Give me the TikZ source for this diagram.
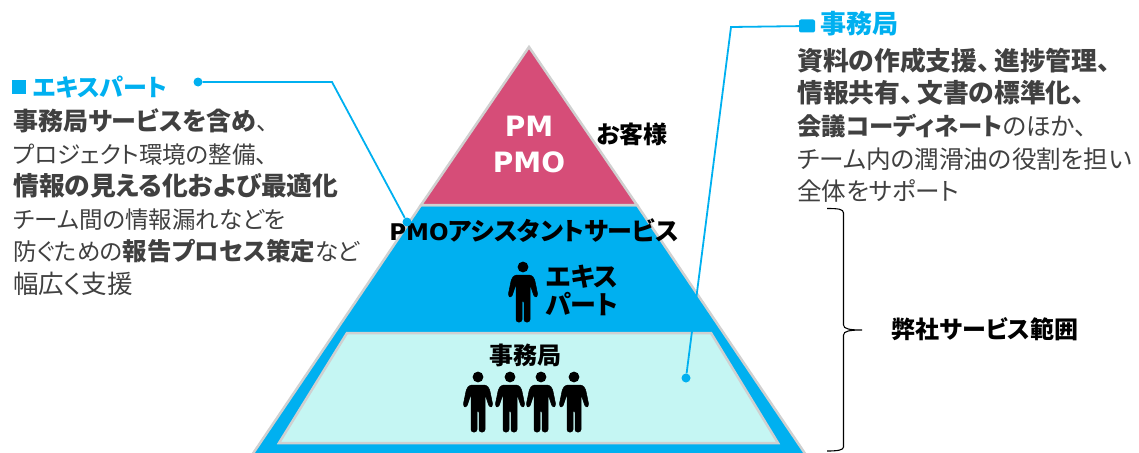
\documentclass[tikz,border=0pt]{standalone}
\usepackage{fontspec}
\setmainfont[RawFeature=+palt]{Noto Sans CJK JP}
\newfontfamily\latinfont{DejaVu Sans}
\usepackage{xcolor}
\definecolor{myblue}{HTML}{00B0F0}
\definecolor{myred}{HTML}{D64D78}
\definecolor{myteal}{HTML}{C5F6F3}
\definecolor{mygray}{HTML}{D0D0D0}
\definecolor{mytext}{HTML}{404040}
\newcommand{\keyword}[2][25.8]{{\fontsize{#1}{32.6}\selectfont\bfseries #2}}
\tikzset{
	tier/.style={draw=mygray, line width=2.5pt, line join=miter},
	label/.style={inner sep=0pt, font=\fontsize{25}{28}\selectfont\bfseries, align=center},
	title/.style={inner sep=0pt, anchor=west, text=myblue, font=\bfseries},
	body/.style={inner sep=0pt, anchor=north west, align=left, text=mytext, font=\fontsize{23.5}{32.6}\selectfont},
	dot/.style={circle, fill=myblue, inner sep=0pt, minimum size=9pt},
	leader/.style={draw=myblue, line width=1.8pt},
	person/.pic={
		\fill[black] (0,0) circle (5.4);
		\fill[black, draw=black, line width=0.5pt, line join=round, rounded corners=2.5pt]
			(-8.5,8) -- (8.5,8) -- (11.5,12) -- (15,29) -- (11.5,30.5) -- (7,17) -- (7,55) -- (1,55) -- (1,33)
			-- (-1,33) -- (-1,55) -- (-7,55) -- (-7,17) -- (-11.5,30.5) -- (-15,29) -- (-11.5,12) -- cycle;
	}
}
\begin{document}
\begin{tikzpicture}[x=1pt,y=-1pt]
	\useasboundingbox (0,0) rectangle (1139,452);
	%% pyramid tiers
	\draw[tier, fill=myblue] (421,205) -- (637,205) -- (806,455) -- (252,455) -- cycle;
	\draw[tier, fill=myred] (529,47) -- (637,205) -- (421,205) -- cycle;
	\draw[tier, fill=myteal] (347,333) -- (711,333) -- (778,443) -- (279,443) -- cycle;
	%% labels in the pyramid
	\node[label, text=white, font=\fontsize{28}{36}\selectfont\bfseries\latinfont] (pm) at (529,144) {PM\\PMO};
	\node[label, font=\fontsize{24}{26}\selectfont\bfseries] (client) at (632,134) {お客様};
	\node[label] (pmoservice) at (534,231) {{\latinfont\fontsize{23}{26}\selectfont PMO}アシスタントサービス};
	\node[label, font=\fontsize{26}{28}\selectfont\bfseries] (expertlabel) at (582,290) {エキス\\パート};
	\node[label, font=\fontsize{24}{28}\selectfont\bfseries] (officelabel) at (525,355) {事務局};
	%% people
	\pic at (523,267) {person};
	\foreach \px in {478,510,541,574}
		\pic at (\px,377) {person};
	%% left text
	\node[title, font=\fontsize{24}{30}\selectfont\bfseries] (experttitle) at (33,87) {エキスパート};
	\node[fill=myblue, inner sep=0pt, minimum size=14pt] (expertmark) at (19,87) {};
	\node[body] (experttext) at (13,108.5) {\keyword[25]{事務局サービスを含め}、\\
		プロジェクト環境の整備、\\
		\keyword{情報の見える化および最適化}\\
		チーム間の情報漏れなどを\\
		防ぐための\keyword[24.5]{報告プロセス策定}など\\
		{\fontsize{25.5}{32.6}\selectfont 幅広く支援}};
	%% right text
	\node[title, font=\fontsize{26}{30}\selectfont\bfseries] (officetitle) at (820,24) {事務局};
	\node[fill=myblue, rounded corners=2pt, inner sep=0pt, minimum width=16pt, minimum height=13pt] (officemark) at (807,26) {};
	\node[body, font=\fontsize{24.6}{32.6}\selectfont] (officetext) at (797,47.5) {\keyword{資料の作成支援、\hspace{4pt}進捗管理、}\\
		\keyword{情報共有、\hspace{4pt}文書の標準化、}\\
		\keyword[24.4]{会議コーディネート}のほか、\\
		チーム内の潤滑油の役割を担い\\
		全体をサポート};
	\node[label, font=\fontsize{24}{26}\selectfont\bfseries] (scope) at (985,329) {弊社サービス範囲};
	%% leader lines
	\node[dot] (expertstart) at (198,82) {};
	\node[dot] (expertend) at (407,222) {};
	\coordinate (expertbend) at (332,82);
	\draw[leader] (expertstart) -- (expertbend) -- (expertend);
	\node[dot] (officestart) at (686,378) {};
	\coordinate (officebend) at (731,27);
	\draw[leader] (officestart) -- (officebend) -- (officemark);
	%% brace
	\coordinate (bracetop) at (827,208.5);
	\coordinate (bracetip) at (862,330);
	\coordinate (bracebottom) at (827,451);
	\draw[black, line width=1.1pt] (bracetop) .. controls (838,208.5) and (843.5,209) .. (843.5,213) -- (843.5,325)
		.. controls (843.5,329) and (850,330) .. (bracetip) .. controls (850,330) and (843.5,331) .. (843.5,335) -- (843.5,447)
		.. controls (843.5,450) and (838,451) .. (bracebottom);
\end{tikzpicture}
\end{document}
